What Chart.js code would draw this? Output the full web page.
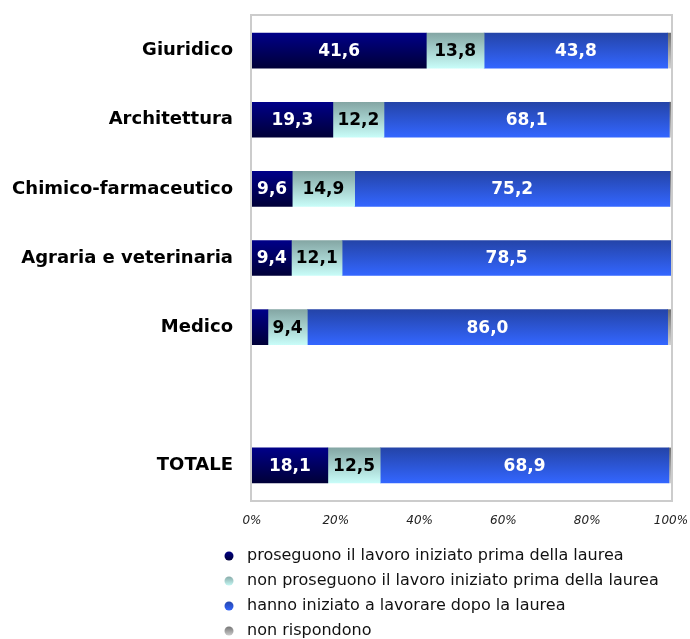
<!DOCTYPE html>
<html>
<head>
<meta charset="utf-8">
<script src="https://cdn.jsdelivr.net/npm/chart.js@4/dist/chart.umd.min.js"></script>
<style>
  html, body { margin: 0; padding: 0; background: #fff; }
  #wrap { width: 690px; height: 639px; }
</style>
</head>
<body>
<div id="wrap"><canvas id="chart" width="690" height="639"></canvas></div>
<script>
// categories (the empty slot leaves a gap before the total)
const categories = ['Giuridico', 'Architettura', 'Chimico-farmaceutico', 'Agraria e veterinaria', 'Medico', '', 'TOTALE'];

const seriesNames = [
  'proseguono il lavoro iniziato prima della laurea',
  'non proseguono il lavoro iniziato prima della laurea',
  'hanno iniziato a lavorare dopo la laurea',
  'non rispondono'
];

const proseguono    = [41.6, 19.3, 9.6, 9.4, 3.8, null, 18.1];
const nonProseguono = [13.8, 12.2, 14.9, 12.1, 9.4, null, 12.5];
const dopoLaurea    = [43.8, 68.1, 75.2, 78.5, 86.0, null, 68.9];
const nonRispondono = [0.8, 0.4, 0.3, 0.0, 0.8, null, 0.5];

const xTicks = [0, 20, 40, 60, 80, 100];

// top / bottom colours of each gradient fill
const gradStops = [
  ['#000088', '#000038'],
  ['#84a6a4', '#c8fcf8'],
  ['#2444a8', '#3366ff'],
  ['#707070', '#d0d0d0']
];
const labelColors = ['#ffffff', '#000000', '#ffffff', null];

const BAR = 35;

function barFill(ds) {
  return function (ctx) {
    const chart = ctx.chart;
    const y = chart.scales && chart.scales.y;
    if (!chart.chartArea || !y || ctx.dataIndex === undefined) return gradStops[ds][0];
    const yc = y.getPixelForValue(ctx.dataIndex);
    const g = chart.ctx.createLinearGradient(0, yc - BAR / 2, 0, yc + BAR / 2);
    g.addColorStop(0, gradStops[ds][0]);
    g.addColorStop(1, gradStops[ds][1]);
    return g;
  };
}

// no automatic padding from tick labels, the layout padding decides
function noPad(scale) {
  scale.paddingLeft = 0;
  scale.paddingRight = 0;
  scale.paddingTop = 0;
  scale.paddingBottom = 0;
}

// light grey frame round the plot area
const framePlugin = {
  id: 'frame',
  beforeDatasetsDraw(chart) {
    const { ctx, chartArea: a } = chart;
    ctx.save();
    ctx.strokeStyle = '#cccccc';
    ctx.lineWidth = 2;
    ctx.strokeRect(a.left - 1, a.top - 1, a.right - a.left + 2, a.bottom - a.top + 2);
    ctx.restore();
  }
};

// values written inside the segments
const valuePlugin = {
  id: 'values',
  afterDatasetsDraw(chart) {
    const ctx = chart.ctx;
    ctx.save();
    ctx.font = 'bold 17px "DejaVu Sans"';
    ctx.textAlign = 'center';
    ctx.textBaseline = 'middle';
    chart.data.datasets.forEach((ds, i) => {
      if (!labelColors[i]) return;
      chart.getDatasetMeta(i).data.forEach((bar, j) => {
        const v = ds.data[j];
        if (v == null || v < 5) return;
        ctx.fillStyle = labelColors[i];
        ctx.fillText(v.toFixed(1).replace('.', ','), (bar.base + bar.x) / 2, bar.y + 1);
      });
    });
    ctx.restore();
  }
};

// vertical legend with round markers under the axis
const legendPlugin = {
  id: 'vlegend',
  afterDraw(chart) {
    const ctx = chart.ctx;
    ctx.save();
    ctx.font = '16px "DejaVu Sans"';
    ctx.textBaseline = 'middle';
    ctx.textAlign = 'left';
    seriesNames.forEach((name, i) => {
      const y = 556 + i * 25;
      const g = ctx.createLinearGradient(0, y - 5, 0, y + 5);
      g.addColorStop(0, gradStops[i][0]);
      g.addColorStop(1, gradStops[i][1]);
      ctx.fillStyle = g;
      ctx.beginPath();
      ctx.arc(229, y, 4.5, 0, Math.PI * 2);
      ctx.fill();
      ctx.fillStyle = '#111111';
      ctx.fillText(name, 247, y);
    });
    ctx.restore();
  }
};

const seriesData = [proseguono, nonProseguono, dopoLaurea, nonRispondono];

new Chart(document.getElementById('chart'), {
  type: 'bar',
  data: {
    labels: categories,
    datasets: seriesData.map((d, i) => ({
      label: seriesNames[i],
      data: d,
      backgroundColor: barFill(i),
      borderWidth: 0,
      barThickness: BAR
    }))
  },
  options: {
    indexAxis: 'y',
    responsive: false,
    animation: false,
    layout: { padding: { left: 0, right: 19, top: 16, bottom: 104 } },
    plugins: {
      legend: { display: false },
      tooltip: { enabled: false }
    },
    scales: {
      x: {
        stacked: true,
        min: 0,
        max: 100,
        afterBuildTicks(scale) { scale.ticks = xTicks.map(v => ({ value: v })); },
        afterFit(scale) { scale.height = 35; noPad(scale); },
        grid: { display: false, drawTicks: false },
        border: { display: false },
        ticks: {
          padding: 14,
          color: '#222222',
          font: { family: '"DejaVu Sans"', size: 12, style: 'italic' },
          callback: v => v + '%'
        }
      },
      y: {
        stacked: true,
        afterFit(scale) { scale.width = 252; noPad(scale); },
        grid: { display: false, drawTicks: false },
        border: { display: false },
        ticks: {
          padding: 19,
          color: '#000000',
          font: { family: '"DejaVu Sans"', size: 18, weight: 'bold' }
        }
      }
    }
  },
  plugins: [framePlugin, valuePlugin, legendPlugin]
});
</script>
</body>
</html>
